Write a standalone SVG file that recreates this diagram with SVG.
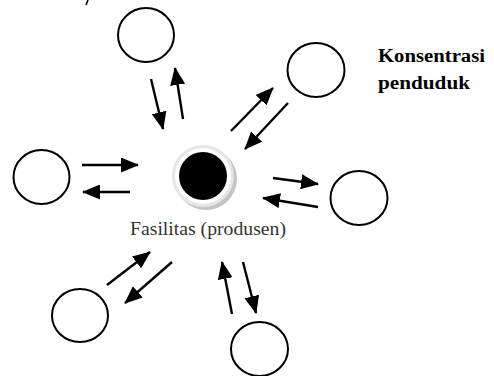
<svg xmlns="http://www.w3.org/2000/svg" width="494" height="376" viewBox="0 0 494 376">
  <style>
    .pop { fill: #ffffff; stroke: #000000; stroke-width: 2; }
    .arr { stroke: #000000; stroke-width: 2.4; fill: none; marker-end: url(#head); }
    .lbl { font-family: "Liberation Serif", "Times New Roman", serif; font-size: 18px; }
  </style>
  <defs>
    <marker id="head" markerUnits="userSpaceOnUse" markerWidth="19" markerHeight="15" viewBox="0 0 19 15" refX="17" refY="7.5" orient="auto">
      <polygon points="0,0 18,7.5 0,15" fill="#000000"/>
    </marker>
  </defs>
  <rect x="0" y="0" width="494" height="376" fill="#ffffff"/>
  <path d="M88,0 L86,5" stroke="#000000" stroke-width="1.6" fill="none"/>

  <g id="facility">
    <circle cx="206" cy="179" r="31" fill="#c4c4c4"/>
    <circle cx="203" cy="176" r="31" fill="#e6e6e6"/>
    <circle cx="203" cy="176" r="28" fill="#ffffff"/>
    <circle cx="203" cy="176" r="24" fill="#000000"/>
    <text class="lbl" x="130" y="235" fill="#333333" textLength="156" lengthAdjust="spacingAndGlyphs">Fasilitas (produsen)</text>
  </g>

  <g id="pop-top"><ellipse class="pop" cx="146" cy="35" rx="28" ry="27"/></g>
  <g id="pop-upper-right"><ellipse class="pop" cx="316" cy="70" rx="28.5" ry="27"/></g>
  <g id="pop-left"><ellipse class="pop" cx="41.5" cy="177" rx="28" ry="27"/></g>
  <g id="pop-right"><ellipse class="pop" cx="359" cy="198" rx="28.5" ry="27"/></g>
  <g id="pop-lower-left"><ellipse class="pop" cx="80" cy="315.5" rx="28" ry="26.5"/></g>
  <g id="pop-bottom"><ellipse class="pop" cx="259.5" cy="349" rx="28.5" ry="27"/></g>

  <g id="legend">
    <text class="lbl" x="378" y="62" font-weight="bold" fill="#000000" textLength="107" lengthAdjust="spacingAndGlyphs">Konsentrasi</text>
    <text class="lbl" x="378" y="89" font-weight="bold" fill="#000000" textLength="92" lengthAdjust="spacingAndGlyphs">penduduk</text>
  </g>

  <g id="connectors">
    <line class="arr" x1="151" y1="79" x2="163" y2="129"/>
    <line class="arr" x1="183" y1="119" x2="175" y2="68"/>
    <line class="arr" x1="231" y1="131" x2="273" y2="88"/>
    <line class="arr" x1="288" y1="103" x2="245" y2="149"/>
    <line class="arr" x1="82" y1="165" x2="138" y2="165"/>
    <line class="arr" x1="130" y1="192" x2="83" y2="192"/>
    <line class="arr" x1="273" y1="178" x2="318" y2="184"/>
    <line class="arr" x1="318" y1="207" x2="263" y2="198"/>
    <line class="arr" x1="107" y1="285" x2="150" y2="252"/>
    <line class="arr" x1="172" y1="262" x2="125" y2="303"/>
    <line class="arr" x1="232" y1="314" x2="222" y2="262"/>
    <line class="arr" x1="243" y1="262" x2="256" y2="313"/>
  </g>
</svg>
